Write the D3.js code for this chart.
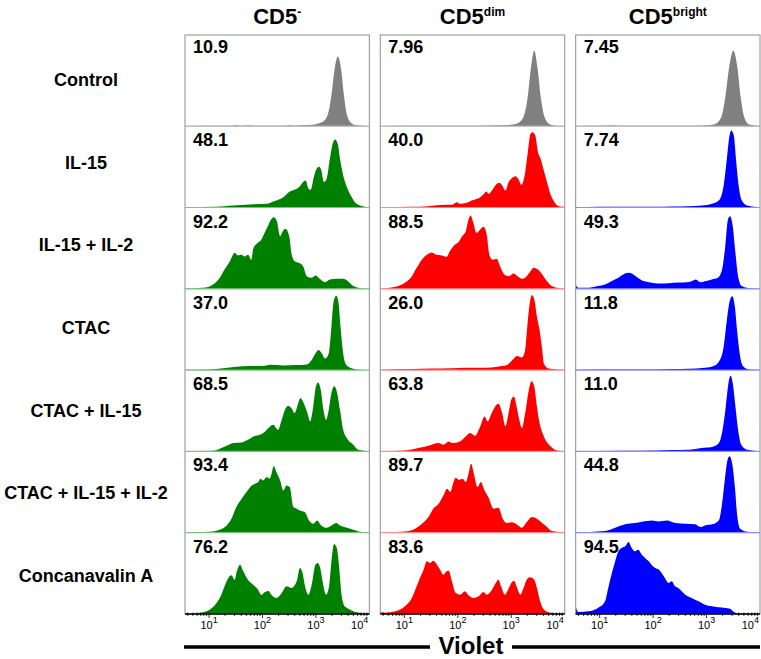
<!DOCTYPE html>
<html>
<head>
  <meta charset="utf-8">
  <title>CD5 Violet proliferation</title>
  <script src="https://cdn.jsdelivr.net/npm/d3@7/dist/d3.min.js"></script>
  <style>
    body { margin: 0; background: #fff; }
    text { font-family: "Liberation Sans", Arial, sans-serif; }
  </style>
</head>
<body>
<svg id="chart" width="761" height="659"></svg>
<script>
// ---- data (x = log10 Violet intensity, y = % of mode) ----
var columnBase = ["CD5", "CD5", "CD5"];
var columnSup  = ["-", "dim", "bright"];
var conditions = ["Control", "IL-15", "IL-15 + IL-2", "CTAC", "CTAC + IL-15", "CTAC + IL-15 + IL-2", "Concanavalin A"];
var percents = [
  ["10.9", "7.96", "7.45"],
  ["48.1", "40.0", "7.74"],
  ["92.2", "88.5", "49.3"],
  ["37.0", "26.0", "11.8"],
  ["68.5", "63.8", "11.0"],
  ["93.4", "89.7", "44.8"],
  ["76.2", "83.6", "94.5"]
];
var tickValues = [10, 100, 1000, 10000];
var tickExp    = ["1", "2", "3", "4"];

// Control
var hCtrlNeg = [[0.55,0.2],[1.4,0.4],[1.5,1.2],[1.6,0.4],[1.75,1.2],[1.85,0.4],[2.4,0.5],[2.5,1.2],[2.6,0.5],[2.7,1.2],[2.85,1.5],[3.0,2.5],[3.12,5],[3.22,14],[3.29,38],[3.35,70],[3.41,85],[3.47,70],[3.52,40],[3.58,14],[3.66,4],[3.76,1.2],[4.0,0.2]];
var hCtrlDim = [[0.55,0.2],[1.6,0.4],[2.4,0.6],[2.7,1.2],[2.95,1.6],[3.1,3],[3.22,10],[3.3,32],[3.37,72],[3.43,92],[3.49,72],[3.56,32],[3.63,10],[3.72,2.5],[3.85,0.6],[4.0,0.2]];
var hCtrlBright = [[0.55,0.2],[1.0,0.4],[1.2,1.2],[1.4,0.4],[2.8,0.6],[3.0,1.2],[3.15,2.5],[3.27,10],[3.35,35],[3.43,75],[3.5,92],[3.57,75],[3.64,35],[3.71,10],[3.8,2],[4.0,0.2]];
// IL-15
var hIl15Neg = [[0.55,0.4],[1.14,0.8],[1.45,2.4],[1.76,3.7],[2.08,4.5],[2.2,7.3],[2.39,12.6],[2.51,19.5],[2.61,22],[2.67,24],[2.71,26.8],[2.76,31],[2.81,33],[2.86,23],[2.9,21.5],[2.96,37],[3.01,47],[3.06,49.6],[3.1,45.5],[3.15,31],[3.2,35],[3.26,59],[3.31,77],[3.36,83],[3.41,77],[3.45,59.4],[3.51,39],[3.58,24.8],[3.67,12.6],[3.76,4.5],[3.89,1.2],[4.0,0.4]];
var hIl15Dim = [[0.55,0.4],[1.14,0.8],[1.45,1.6],[1.76,3.3],[1.89,3.3],[1.98,6.5],[2.04,4.5],[2.17,5.7],[2.26,8.5],[2.36,10.6],[2.42,12.6],[2.49,16.7],[2.53,19.5],[2.58,16.7],[2.64,20.7],[2.73,28.9],[2.78,30.1],[2.83,26.8],[2.89,20.7],[2.95,30.9],[3.01,35.8],[3.08,38.2],[3.13,35],[3.19,27.6],[3.25,39],[3.31,67.5],[3.36,89.8],[3.4,91.9],[3.45,87.8],[3.5,67.5],[3.55,59.4],[3.6,47.2],[3.67,30.9],[3.73,16.7],[3.81,6.5],[3.89,1.6],[4.0,0.8]];
var hIl15Bright = [[0.55,0.4],[1.41,0.8],[2.04,0.8],[2.35,1.2],[2.66,1.6],[2.91,2.4],[3.1,4.5],[3.23,8.5],[3.32,26.8],[3.38,59.4],[3.43,87.8],[3.46,93.9],[3.51,87.8],[3.55,59.4],[3.6,26.8],[3.66,8.5],[3.76,2.4],[4.0,0.4]];
// IL-15 + IL-2
var hIl15Il2Neg = [[0.55,0.4],[0.89,1.2],[1.075,5.3],[1.2,13.4],[1.29,23.6],[1.39,33.7],[1.48,44],[1.54,40.6],[1.6,41.5],[1.67,39.4],[1.73,41.5],[1.79,35.4],[1.83,49.6],[1.91,56],[1.98,60],[2.04,68.3],[2.1,76.4],[2.16,84.5],[2.21,87.4],[2.27,82.5],[2.33,64.2],[2.38,70.3],[2.43,73.2],[2.5,64.2],[2.54,43.9],[2.6,33.7],[2.68,31.7],[2.76,27.6],[2.83,15.4],[2.91,13.4],[3.0,16.3],[3.07,12.2],[3.17,8.1],[3.26,11.4],[3.39,12.2],[3.51,12.2],[3.6,9.3],[3.7,3.3],[3.83,0.8],[4.0,0.4]];
var hIl15Il2Dim = [[0.55,0.4],[0.83,2.4],[1.01,7.3],[1.14,15.4],[1.23,25.6],[1.33,35.8],[1.42,41.5],[1.51,44.3],[1.6,41.5],[1.7,40.7],[1.79,39],[1.85,45.9],[1.95,54.1],[2.01,56.9],[2.08,64.2],[2.15,70.3],[2.2,84.5],[2.24,89.4],[2.29,80.5],[2.35,68.3],[2.42,72.4],[2.48,75.6],[2.54,66.3],[2.59,41.5],[2.65,35.4],[2.73,36.2],[2.79,27.6],[2.87,17.5],[2.96,15.4],[3.04,18.7],[3.12,15.4],[3.2,12.2],[3.26,13.4],[3.34,19.5],[3.42,25.6],[3.5,23.6],[3.58,17.5],[3.67,9.3],[3.76,3.3],[3.89,0.8],[4.0,0.4]];
var hIl15Il2Bright = [[0.55,5.3],[0.6,1.2],[0.79,1.2],[0.97,3.3],[1.1,5.3],[1.22,9.3],[1.35,13.4],[1.44,17.5],[1.54,19.5],[1.6,18.7],[1.69,14.6],[1.79,10.2],[1.88,8.5],[1.97,7.3],[2.1,6.5],[2.29,6.9],[2.47,7.7],[2.63,8.1],[2.72,9.3],[2.8,11.4],[2.88,8.1],[2.97,9.3],[3.1,11.4],[3.21,13.4],[3.29,23.6],[3.35,52],[3.4,84.5],[3.44,88.6],[3.49,76.4],[3.54,43.9],[3.59,15.4],[3.66,3.3],[3.79,0.8],[4.0,0.4]];
// CTAC
var hCtacNeg = [[0.55,0.4],[1.01,0.8],[1.26,2.4],[1.51,4.1],[1.76,4.9],[2.01,4.9],[2.14,6.5],[2.39,5.7],[2.64,6.1],[2.83,6.9],[2.92,12.2],[2.99,20.3],[3.05,24.4],[3.11,20.3],[3.17,14.2],[3.24,20.3],[3.29,52.8],[3.33,83.3],[3.38,90.6],[3.42,83.3],[3.46,52.8],[3.51,20.3],[3.57,6.1],[3.68,2],[3.83,0.4],[4.0,0]];
var hCtacDim = [[0.55,0.4],[1.14,1.2],[1.51,2],[1.89,2.4],[2.14,2.8],[2.39,2.8],[2.64,3.3],[2.83,4.9],[2.92,6.1],[2.99,10.2],[3.05,14.2],[3.11,17.1],[3.2,15.4],[3.26,24.4],[3.3,52.8],[3.35,83.3],[3.39,91.5],[3.44,83.3],[3.48,65],[3.53,48.8],[3.58,24.4],[3.61,8.1],[3.7,2],[4.0,0.4]];
var hCtacBright = [[0.55,0.4],[1.41,0.8],[2.04,0.8],[2.35,1.2],[2.66,1.6],[2.97,2.8],[3.13,4.9],[3.23,10.2],[3.32,28.5],[3.38,61],[3.43,83.3],[3.48,90.2],[3.53,77.2],[3.57,48.8],[3.62,20.3],[3.68,4.9],[3.79,0.8],[4.0,0.4]];
// CTAC + IL-15
var hCtacIl15Neg = [[0.55,0.4],[1.08,0.8],[1.2,3.3],[1.33,6.9],[1.45,10.2],[1.61,11],[1.73,14.2],[1.83,18.3],[1.95,20.3],[2.05,24.4],[2.11,28.5],[2.2,32.5],[2.29,26.4],[2.36,38.6],[2.42,50.8],[2.48,55.7],[2.54,52.8],[2.6,46.7],[2.67,58.9],[2.71,65],[2.77,58.9],[2.84,46.7],[2.89,36.6],[2.95,54.9],[3.0,79.3],[3.04,84.1],[3.09,75.2],[3.14,50.8],[3.19,38.6],[3.24,50.8],[3.29,71.1],[3.34,79.3],[3.39,73.2],[3.45,50.8],[3.51,26.4],[3.6,14.2],[3.7,8.1],[3.79,2],[4.0,0.4]];
var hCtacIl15Dim = [[0.55,0.4],[1.01,1.2],[1.26,4.1],[1.45,6.9],[1.64,10.2],[1.73,8.1],[1.83,12.2],[1.9,10.2],[2.04,12.2],[2.15,18.3],[2.23,22.4],[2.32,19.1],[2.42,30.5],[2.5,42.7],[2.56,36.6],[2.62,44.7],[2.7,54.9],[2.76,58.1],[2.83,46.7],[2.89,30.5],[2.95,46.7],[3.0,63],[3.05,67.1],[3.1,54.9],[3.15,38.6],[3.2,28.5],[3.26,46.7],[3.33,75.2],[3.38,85.4],[3.43,79.3],[3.48,54.9],[3.53,34.6],[3.61,18.3],[3.74,6.1],[3.86,1.2],[4.0,0.4]];
var hCtacIl15Bright = [[0.55,0.4],[1.41,0.8],[2.04,1.2],[2.35,1.6],[2.66,2],[2.91,4.1],[3.1,5.3],[3.23,10.2],[3.3,26.4],[3.36,54.9],[3.41,83.3],[3.45,92.3],[3.49,83.3],[3.54,54.9],[3.59,26.4],[3.65,8.1],[3.76,2],[4.0,0.4]];
// CTAC + IL-15 + IL-2
var hAllNeg = [[0.55,0.4],[1.01,1.2],[1.2,3.7],[1.33,8.9],[1.42,17.1],[1.51,31.3],[1.61,41.5],[1.7,49.6],[1.8,57.7],[1.86,59.8],[1.92,61.8],[1.96,65.9],[2.01,63.8],[2.08,67.9],[2.13,65.9],[2.17,72],[2.21,80.9],[2.26,74],[2.33,63.8],[2.39,51.6],[2.45,57.7],[2.51,55.7],[2.58,31.3],[2.64,29.3],[2.7,27.2],[2.79,25.2],[2.87,15],[2.95,11],[3.02,15],[3.1,8.9],[3.2,6.1],[3.29,8.9],[3.38,11.8],[3.45,8.9],[3.58,6.1],[3.7,3.7],[3.83,1.2],[4.0,0.4]];
var hAllDim = [[0.55,0.4],[1.01,1.6],[1.2,4.9],[1.33,11],[1.45,19.1],[1.54,29.3],[1.64,35.4],[1.73,45.5],[1.8,53.7],[1.86,49.6],[1.92,61.8],[1.96,67.1],[2.02,64.6],[2.09,65.9],[2.15,61.8],[2.2,72],[2.25,84.1],[2.3,72],[2.37,55.7],[2.43,61.8],[2.5,51.6],[2.57,43.5],[2.67,29.3],[2.76,30.5],[2.84,17.1],[2.92,11.8],[3.01,12.6],[3.11,9.8],[3.2,6.1],[3.29,13],[3.39,19.1],[3.48,17.1],[3.58,11.8],[3.67,6.9],[3.76,2],[4.0,0.4]];
var hAllBright = [[0.55,0.4],[1.1,2],[1.29,6.1],[1.48,10.2],[1.66,11.8],[1.79,13.4],[1.98,15],[2.1,13.8],[2.26,15],[2.42,11.8],[2.6,11],[2.79,10.2],[2.88,6.9],[2.97,8.9],[3.1,10.2],[3.23,15],[3.29,35.4],[3.34,63.8],[3.39,88.2],[3.43,93.1],[3.48,84.1],[3.53,55.7],[3.57,23.2],[3.63,4.9],[3.76,1.2],[4.0,0.4]];
// Concanavalin A
var hConANeg = [[0.55,0.4],[0.83,1.6],[1.01,5.3],[1.14,13.4],[1.23,23.6],[1.29,33.7],[1.36,43.9],[1.42,47.2],[1.48,41.5],[1.52,52],[1.58,60.2],[1.64,52],[1.73,41.5],[1.83,35.4],[1.92,29.3],[1.98,23.2],[2.04,26.4],[2.11,28.1],[2.17,23.2],[2.26,19.5],[2.36,25.6],[2.45,33.7],[2.54,31.7],[2.64,39.8],[2.7,56.1],[2.75,50],[2.79,35.8],[2.86,23.6],[2.92,35.8],[2.99,60.2],[3.03,62.2],[3.08,56.1],[3.13,37.8],[3.19,23.6],[3.25,35.8],[3.29,64.2],[3.34,85.4],[3.39,80.5],[3.43,60.2],[3.48,23.6],[3.54,9.3],[3.64,5.3],[3.76,2],[4.0,0.4]];
var hConADim = [[0.55,2.4],[0.64,1.6],[0.83,3.3],[1.01,9.3],[1.14,19.5],[1.23,33.7],[1.29,43.9],[1.36,54.1],[1.42,64.2],[1.48,62.2],[1.54,65],[1.61,60.2],[1.67,54.1],[1.73,47.9],[1.79,52],[1.83,52.8],[1.89,39.8],[1.96,25.6],[2.05,23.6],[2.13,27.6],[2.2,22.8],[2.29,19.5],[2.39,21.5],[2.48,26.8],[2.54,23.6],[2.64,29.7],[2.71,37.8],[2.76,41.9],[2.81,33.7],[2.88,23.6],[2.94,29.7],[3.0,37.8],[3.05,40.7],[3.1,33.7],[3.17,23.6],[3.23,31.7],[3.29,41.9],[3.35,44.7],[3.43,41.9],[3.48,31.7],[3.54,15.4],[3.61,5.3],[3.74,1.6],[4.0,0.4]];
var hConABright = [[0.55,9.3],[0.6,2.4],[0.79,3.3],[0.97,7.3],[1.1,15.4],[1.16,31.7],[1.22,47.9],[1.29,64.2],[1.35,76.4],[1.41,80.5],[1.48,82.5],[1.54,87.8],[1.6,80.5],[1.66,76.4],[1.72,78.5],[1.79,72.4],[1.85,68.3],[1.92,64.2],[1.97,60.2],[2.04,56.1],[2.11,54.1],[2.16,50],[2.22,43.9],[2.29,37.8],[2.35,39.8],[2.41,33.7],[2.47,31.7],[2.6,23.6],[2.72,19.5],[2.85,15.4],[2.97,11.4],[3.1,9.3],[3.22,8.1],[3.35,7.3],[3.44,6.5],[3.51,2.4],[3.6,0.8],[4.0,0.4]];

var histograms = [
  [hCtrlNeg, hCtrlDim, hCtrlBright],
  [hIl15Neg, hIl15Dim, hIl15Bright],
  [hIl15Il2Neg, hIl15Il2Dim, hIl15Il2Bright],
  [hCtacNeg, hCtacDim, hCtacBright],
  [hCtacIl15Neg, hCtacIl15Dim, hCtacIl15Bright],
  [hAllNeg, hAllDim, hAllBright],
  [hConANeg, hConADim, hConABright]
];

// ---- layout ----
var chart = d3.select("#chart");
var fillColr  = ["#008000", "#ff0000", "#0000ff"];
var lineColr  = ["#80c080", "#ff8c8c", "#8c8cff"];
var ctrlFill  = "#808080";
var ctrlLine  = "#b4b4b4";
var plotTop   = 35;
var plotBot   = 614;
var rowH      = 81.3;

var colBand = d3.scaleBand().domain([0, 1, 2]).range([185, 760]).paddingInner(0.056);
var panelW  = colBand.bandwidth();
function rowBottom(i) { return plotBot - (conditions.length - 1 - i) * rowH; }
function rowTop(i)    { return i === 0 ? plotTop : rowBottom(i - 1); }

var labelY = d3.scaleLinear().domain([0, conditions.length - 1]).range([86, 582]);

// column headers
columnBase.forEach(function(b, c) {
  var t = chart.append("text")
     .attr("x", colBand(c) + panelW / 2).attr("y", 24)
     .style("text-anchor", "middle").style("font-weight", "bold").style("font-size", "22px");
  t.append("tspan").text(b);
  t.append("tspan").attr("dy", -8).style("font-size", "12px").text(columnSup[c]);
});

// row labels
conditions.forEach(function(name, r) {
  chart.append("text").attr("x", 86).attr("y", labelY(r))
     .style("text-anchor", "middle").style("font-weight", "bold").style("font-size", "18px")
     .text(name);
});

// panels
d3.range(3).forEach(function(c) {
  var x0 = colBand(c);
  var xScale = d3.scaleLog().domain([Math.pow(10, 0.55), 1e4]).range([x0, x0 + panelW]);
  var clipId = "clip" + c;
  chart.append("clipPath").attr("id", clipId)
     .append("rect").attr("x", x0).attr("y", plotTop).attr("width", panelW).attr("height", plotBot - plotTop);
  var g = chart.append("g").attr("clip-path", "url(#" + clipId + ")");

  conditions.forEach(function(name, r) {
    var yb = rowBottom(r);
    var yScale = d3.scaleLinear().domain([0, 100]).range([yb, yb - 82]);
    var area = d3.area()
        .x(function(d) { return xScale(Math.pow(10, d[0])); })
        .y0(yb)
        .y1(function(d) { return yScale(d[1]); })
        .curve(d3.curveMonotoneX);
    g.append("path").datum(histograms[r][c]).attr("d", area)
       .style("fill", r === 0 ? ctrlFill : fillColr[c]).style("stroke", "none");
    if (r < conditions.length - 1) {
      g.append("line").attr("x1", x0).attr("x2", x0 + panelW).attr("y1", yb).attr("y2", yb)
         .style("stroke", r === 0 ? ctrlLine : lineColr[c]).style("stroke-width", 1.2);
    }
    chart.append("text").attr("x", x0 + 8).attr("y", rowTop(r) + (r === 0 ? 18 : 20))
       .style("font-weight", "bold").style("font-size", "18px")
       .text(percents[r][c]);
  });

  // frame
  chart.append("rect").attr("x", x0).attr("y", plotTop).attr("width", panelW).attr("height", plotBot - plotTop)
     .style("fill", "none").style("stroke", "#a0a0a0").style("stroke-width", 1.2);

  // x axis
  chart.append("line").attr("x1", x0).attr("x2", x0 + panelW).attr("y1", plotBot).attr("y2", plotBot)
     .style("stroke", "#000").style("stroke-width", 1.5);
  var minor = [];
  [1, 10, 100, 1000].forEach(function(p) {
    d3.range(1, 10).forEach(function(k) {
      var v = k * p;
      if (v >= xScale.domain()[0] && v <= 1e4) minor.push(v);
    });
  });
  chart.selectAll(null).data(minor).enter().append("line")
     .attr("x1", function(d) { return xScale(d); }).attr("x2", function(d) { return xScale(d); })
     .attr("y1", plotBot - 1.5).attr("y2", function(d) { return tickValues.indexOf(d) >= 0 ? plotBot + 4 : plotBot + 2; })
     .style("stroke", "#000").style("stroke-width", 0.8);
  tickValues.forEach(function(v, i) {
    var last = i === tickValues.length - 1;
    var t = chart.append("text")
       .attr("x", last ? x0 + panelW - 1 : xScale(v)).attr("y", 629)
       .style("text-anchor", last ? "end" : "middle").style("font-size", "11px");
    t.append("tspan").text("10");
    t.append("tspan").attr("dy", -6).style("font-size", "9px").text(tickExp[i]);
  });
});

// Violet axis title with rules
chart.append("line").attr("x1", 184).attr("x2", 430).attr("y1", 647).attr("y2", 647)
   .style("stroke", "#000").style("stroke-width", 3.5);
chart.append("line").attr("x1", 512).attr("x2", 760).attr("y1", 647).attr("y2", 647)
   .style("stroke", "#000").style("stroke-width", 3.5);
chart.append("text").attr("x", 471).attr("y", 653.5)
   .style("text-anchor", "middle").style("font-weight", "bold").style("font-size", "24px")
   .text("Violet");
</script>
</body>
</html>
